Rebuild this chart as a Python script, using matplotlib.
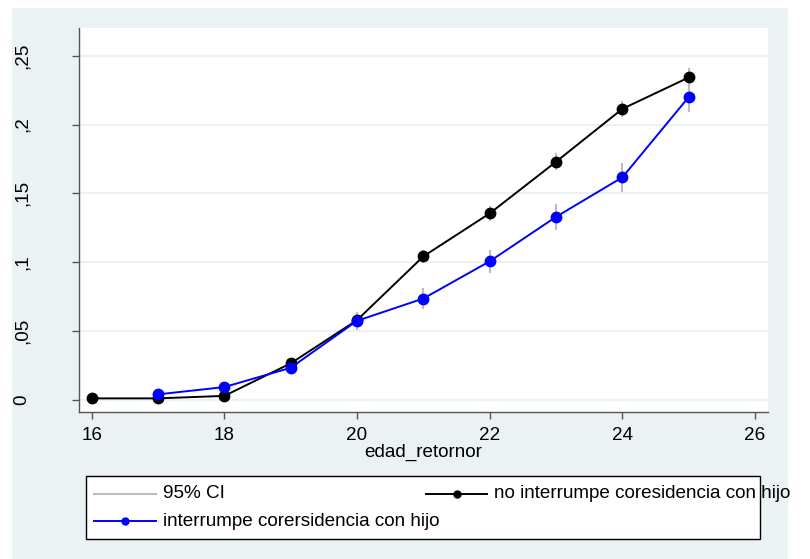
import matplotlib.pyplot as plt
from matplotlib.patches import Rectangle
from matplotlib.lines import Line2D

plt.rcParams['font.family'] = ['Liberation Sans', 'DejaVu Sans']

# Data
edad_no = [16, 17, 18, 19, 20, 21, 22, 23, 24, 25]
prop_no = [0.0012, 0.0012, 0.003, 0.0266, 0.058, 0.1043, 0.1355, 0.173, 0.2114, 0.2342]
ci_no = [0.001, 0.001, 0.001, 0.002, 0.003, 0.0045, 0.0055, 0.006, 0.006, 0.0065]

edad_si = [17, 18, 19, 20, 21, 22, 23, 24, 25]
prop_si = [0.0041, 0.0094, 0.0234, 0.0575, 0.0737, 0.1007, 0.133, 0.1617, 0.220]
ci_si = [0.0015, 0.002, 0.003, 0.0065, 0.0075, 0.0085, 0.0095, 0.0105, 0.011]

yticks = [0, 0.05, 0.1, 0.15, 0.2, 0.25]
ytick_labels = ['0', ',05', ',1', ',15', ',2', ',25']
xticks = [16, 18, 20, 22, 24, 26]

bg = '#EAF2F3'
ci_color = '#BDBDBD'
fs = 13.6

fig = plt.figure(figsize=(8.1, 5.59), dpi=100)
fig.patch.set_facecolor('white')
fig.patches.append(Rectangle((12 / 810, 0), 776 / 810, 551 / 559, transform=fig.transFigure,
                             facecolor=bg, edgecolor='none', zorder=-10))

ax = fig.add_axes([79 / 810, 1 - 412 / 559, (767.7 - 79) / 810, (412 - 28) / 559])
ax.set_facecolor('white')

# confidence intervals
ax.vlines(edad_no, [p - c for p, c in zip(prop_no, ci_no)], [p + c for p, c in zip(prop_no, ci_no)],
          color=ci_color, lw=1.5, zorder=2)
ax.vlines(edad_si, [p - c for p, c in zip(prop_si, ci_si)], [p + c for p, c in zip(prop_si, ci_si)],
          color=ci_color, lw=1.5, zorder=2)

ax.plot(edad_no, prop_no, color='black', lw=1.4, marker='o', ms=7.5, zorder=3)
ax.plot(edad_si, prop_si, color='#0000FF', lw=1.4, marker='o', ms=7.5, zorder=4)

ax.set_xlim(15.809, 26.19)
ax.set_ylim(-0.0087, 0.2701)
ax.set_xticks(xticks)
ax.set_yticks(yticks)
ax.set_yticklabels(ytick_labels, rotation=90, va='center')
ax.grid(axis='y', color=bg, lw=1.5, zorder=0)
ax.grid(axis='x', visible=False)
ax.set_axisbelow(True)

for s in ['top', 'right']:
    ax.spines[s].set_visible(False)
for s in ['left', 'bottom']:
    ax.spines[s].set_color('#555555')
    ax.spines[s].set_linewidth(1.0)
ax.tick_params(axis='both', colors='#555555', length=5, width=1, labelsize=fs, labelcolor='black')
ax.tick_params(axis='y', pad=30)
ax.tick_params(axis='x', pad=6)
ax.set_xlabel('edad_retornor', fontsize=fs, labelpad=0)

# legend drawn by hand (text spills past the box as in the original)
fig.patches.append(Rectangle((86 / 810, 1 - 539 / 559), 674 / 810, 63 / 559, transform=fig.transFigure,
                             facecolor='white', edgecolor='black', lw=1.0, zorder=5))
r1 = 1 - 494 / 559
r2 = 1 - 521 / 559
fig.lines.append(Line2D([93.5 / 810, 156 / 810], [r1, r1], color=ci_color, lw=1.5,
                        transform=fig.transFigure, zorder=6))
fig.text(163 / 810, r1, '95% CI', fontsize=fs, va='center', zorder=6)
fig.lines.append(Line2D([426 / 810, 487 / 810], [r1, r1], color='black', lw=1.4,
                        transform=fig.transFigure, zorder=6))
fig.lines.append(Line2D([456.5 / 810], [r1], color='black', marker='o', ms=5,
                        transform=fig.transFigure, zorder=6))
fig.text(494 / 810, r1, 'no interrumpe coresidencia con hijo', fontsize=fs, va='center', zorder=6)
fig.lines.append(Line2D([93.5 / 810, 156 / 810], [r2, r2], color='#0000FF', lw=1.4,
                        transform=fig.transFigure, zorder=6))
fig.lines.append(Line2D([124.5 / 810], [r2], color='#0000FF', marker='o', ms=5,
                        transform=fig.transFigure, zorder=6))
fig.text(163 / 810, r2, 'interrumpe corersidencia con hijo', fontsize=fs, va='center', zorder=6)

plt.savefig('out.png', dpi=100)
